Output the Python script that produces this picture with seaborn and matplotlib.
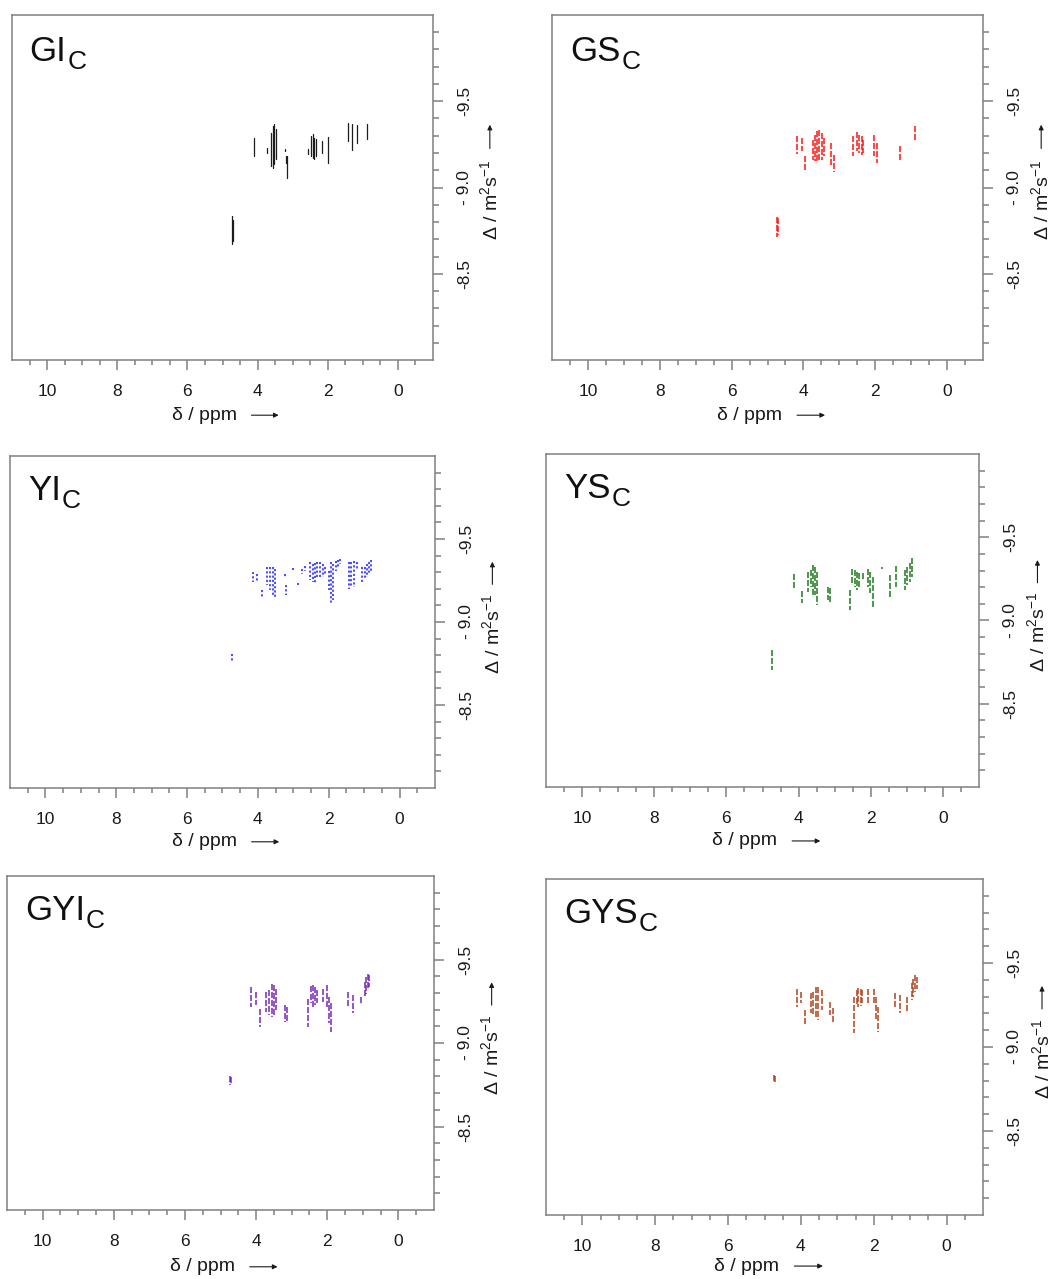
import numpy as np
import pandas as pd
import matplotlib
matplotlib.use("Agg")
import matplotlib.pyplot as plt
import seaborn as sns
from matplotlib.ticker import FixedLocator

# ---------------- data ----------------
panel_names = ["GI", "GS", "YI", "YS", "GYI", "GYS"]
panel_sub = "C"

gi_ppm = [4.11, 3.73, 3.62, 3.57, 3.53, 3.47, 3.21, 3.20, 3.16, 2.55, 2.48, 2.43, 2.38, 2.33, 2.17, 1.98, 1.41, 1.32, 1.18, 0.89, 4.72, 4.70]
gi_top = [-9.289, -9.231, -9.318, -9.357, -9.366, -9.337, -9.225, -9.182, -9.182, -9.221, -9.298, -9.308, -9.289, -9.279, -9.269, -9.295, -9.372, -9.366, -9.360, -9.370, -8.833, -8.814]
gi_bot = [-9.182, -9.202, -9.124, -9.114, -9.134, -9.163, -9.211, -9.143, -9.056, -9.192, -9.182, -9.172, -9.163, -9.182, -9.202, -9.143, -9.269, -9.217, -9.256, -9.279, -8.674, -8.688]

gs_ppm = [4.18, 4.04, 3.95, 3.74, 3.67, 3.61, 3.56, 3.49, 3.44, 3.23, 3.16, 2.61, 2.52, 2.44, 2.38, 2.33, 2.04, 1.96, 1.32, 0.90, 4.74, 4.70]
gs_top = [-9.297, -9.287, -9.180, -9.277, -9.306, -9.326, -9.331, -9.316, -9.287, -9.258, -9.190, -9.297, -9.320, -9.306, -9.297, -9.277, -9.306, -9.258, -9.238, -9.359, -8.831, -8.822]
gs_bot = [-9.196, -9.209, -9.093, -9.161, -9.151, -9.141, -9.145, -9.161, -9.180, -9.132, -9.087, -9.180, -9.209, -9.200, -9.190, -9.200, -9.180, -9.141, -9.151, -9.277, -8.711, -8.725]

yi_ppm = [4.13, 4.03, 3.89, 3.75, 3.66, 3.58, 3.51, 3.23, 3.20, 3.00, 2.87, 2.75, 2.66, 2.52, 2.45, 2.39, 2.32, 2.24, 2.16, 2.10, 2.00, 1.94, 1.88, 1.80, 1.74, 1.67, 1.44, 1.37, 1.28, 1.19, 1.06, 0.97, 0.92, 0.87, 0.82, 4.74]
yi_top = [-9.30, -9.29, -9.19, -9.33, -9.334, -9.33, -9.32, -9.29, -9.22, -9.324, -9.234, -9.32, -9.34, -9.36, -9.35, -9.354, -9.36, -9.36, -9.35, -9.33, -9.31, -9.36, -9.35, -9.37, -9.374, -9.38, -9.36, -9.36, -9.37, -9.36, -9.33, -9.33, -9.35, -9.36, -9.374, -8.806]
yi_bot = [-9.24, -9.24, -9.15, -9.22, -9.19, -9.16, -9.15, -9.27, -9.16, -9.314, -9.22, -9.29, -9.31, -9.25, -9.24, -9.23, -9.26, -9.27, -9.27, -9.29, -9.19, -9.11, -9.13, -9.31, -9.33, -9.35, -9.20, -9.21, -9.21, -9.32, -9.24, -9.26, -9.27, -9.29, -9.31, -8.76]

ys_ppm = [4.14, 3.90, 3.74, 3.66, 3.60, 3.54, 3.49, 3.19, 3.12, 2.57, 2.52, 2.45, 2.38, 2.33, 2.22, 2.08, 2.01, 1.94, 1.68, 1.46, 1.29, 1.06, 1.00, 0.92, 0.85, 4.73]
ys_top = [-9.28, -9.18, -9.294, -9.304, -9.334, -9.324, -9.294, -9.204, -9.194, -9.184, -9.308, -9.304, -9.294, -9.284, -9.284, -9.308, -9.294, -9.264, -9.32, -9.274, -9.328, -9.304, -9.324, -9.348, -9.374, -8.82]
ys_bot = [-9.188, -9.104, -9.174, -9.204, -9.144, -9.154, -9.094, -9.124, -9.114, -9.064, -9.214, -9.204, -9.184, -9.204, -9.244, -9.204, -9.164, -9.084, -9.308, -9.144, -9.204, -9.184, -9.214, -9.234, -9.264, -8.704]

gyi_ppm = [4.13, 4.01, 3.88, 3.71, 3.63, 3.56, 3.49, 3.44, 3.19, 3.13, 2.53, 2.47, 2.41, 2.35, 2.30, 2.13, 2.00, 1.94, 1.89, 1.41, 1.27, 1.06, 0.94, 0.90, 0.85, 0.82, 4.74, 4.71]
gyi_top = [-9.336, -9.306, -9.201, -9.306, -9.320, -9.356, -9.346, -9.326, -9.227, -9.217, -9.266, -9.340, -9.346, -9.336, -9.316, -9.326, -9.346, -9.276, -9.237, -9.306, -9.286, -9.276, -9.366, -9.396, -9.412, -9.406, -8.801, -8.797]
gyi_bot = [-9.217, -9.227, -9.097, -9.187, -9.167, -9.157, -9.167, -9.197, -9.127, -9.117, -9.097, -9.237, -9.217, -9.227, -9.237, -9.247, -9.217, -9.117, -9.067, -9.217, -9.177, -9.233, -9.276, -9.296, -9.316, -9.336, -8.748, -8.752]

gys_ppm = [4.12, 4.01, 3.89, 3.73, 3.67, 3.59, 3.52, 3.43, 3.19, 3.12, 2.55, 2.47, 2.42, 2.36, 2.31, 2.15, 2.00, 1.95, 1.89, 1.42, 1.28, 1.08, 0.96, 0.91, 0.87, 0.82, 4.73, 4.70]
gys_top = [-9.348, -9.328, -9.220, -9.319, -9.328, -9.358, -9.358, -9.338, -9.269, -9.230, -9.299, -9.342, -9.354, -9.348, -9.338, -9.348, -9.348, -9.299, -9.240, -9.319, -9.309, -9.299, -9.378, -9.407, -9.427, -9.417, -8.835, -8.826]
gys_bot = [-9.240, -9.259, -9.131, -9.200, -9.190, -9.171, -9.161, -9.220, -9.190, -9.145, -9.082, -9.250, -9.240, -9.244, -9.259, -9.250, -9.259, -9.161, -9.092, -9.240, -9.200, -9.200, -9.279, -9.299, -9.328, -9.348, -8.786, -8.790]

x_major = [10, 8, 6, 4, 2, 0]
x_minor = [10.5, 9.5, 9, 8.5, 7.5, 7, 6.5, 5.5, 5, 4.5, 3.5, 3, 2.5, 1.5, 1, 0.5, -0.5]
y_major = [-9.5, -9.0, -8.5]
y_major_labels = ["-9.5", "- 9.0", "-8.5"]
y_minor = [-9.9, -9.8, -9.7, -9.6, -9.4, -9.3, -9.2, -9.1, -8.9, -8.8, -8.7, -8.6, -8.4, -8.3, -8.2, -8.1]

# ---------------- style ----------------
sns.set_theme(style="white")
plt.rcParams["font.family"] = ["Liberation Sans", "DejaVu Sans"]
plt.rcParams["mathtext.fontset"] = "custom"
plt.rcParams["mathtext.rm"] = "Liberation Sans"
plt.rcParams["mathtext.it"] = "Liberation Sans:italic"
plt.rcParams["mathtext.bf"] = "Liberation Sans:bold"
plt.rcParams["mathtext.default"] = "regular"

W, H = 1054, 1279
fig = plt.figure(figsize=(W / 100, H / 100), dpi=100)
renderer = fig.canvas.get_renderer()

# (left, top, right, bottom) in pixels
boxes = [
    (12, 15, 433, 360),
    (552, 15, 983, 360),
    (10, 456, 435, 788),
    (546, 454, 979, 787),
    (7, 876, 434, 1210),
    (546, 879, 983, 1215),
]
colors = ["#1c1c1c", "#ff1414", "#1a1aff", "#1e781e", "#7528b8", "#b0441c"]
styles = ["-", (0, (4, 1.2)), (0, (1.4, 1.4)), (0, (4, 1.2)), (0, (4, 1.2)), (0, (4, 1.2))]
widths = [0.9, 1.1, 1.1, 1.1, 1.1, 1.1]
xlab_y = [-0.16, -0.16, -0.162, -0.162, -0.17, -0.152]

datasets = [
    (gi_ppm, gi_top, gi_bot),
    (gs_ppm, gs_top, gs_bot),
    (yi_ppm, yi_top, yi_bot),
    (ys_ppm, ys_top, ys_bot),
    (gyi_ppm, gyi_top, gyi_bot),
    (gys_ppm, gys_top, gys_bot),
]

gray = "#808080"
for i, name in enumerate(panel_names):
    l, t, r, b = boxes[i]
    ax = fig.add_axes([l / W, 1 - b / H, (r - l) / W, (b - t) / H])
    ppm, top, bot = datasets[i]
    df = pd.DataFrame({
        "ppm": np.repeat(ppm, 2),
        "D": np.ravel(np.column_stack([top, bot])),
        "peak": np.repeat(np.arange(len(ppm)), 2),
    })
    sns.lineplot(data=df, x="ppm", y="D", units="peak", estimator=None, sort=False,
                 color=colors[i], linewidth=widths[i], linestyle=styles[i], legend=False, ax=ax)
    ax.set_xlim(11, -1)
    ax.set_ylim(-8, -10)
    ax.set_xlabel("")
    ax.set_ylabel("")

    ax.xaxis.set_major_locator(FixedLocator(x_major))
    ax.xaxis.set_minor_locator(FixedLocator(x_minor))
    ax.set_xticklabels([str(v) for v in x_major])
    ax.yaxis.tick_right()
    ax.yaxis.set_major_locator(FixedLocator(y_major))
    ax.yaxis.set_minor_locator(FixedLocator(y_minor))
    ax.set_yticklabels(y_major_labels)

    ax.tick_params(axis="x", which="both", bottom=True, top=False, direction="out",
                   color=gray, width=1.1, labelsize=12.5, labelcolor="#1a1a1a", pad=10)
    ax.tick_params(axis="x", which="major", length=7.2)
    ax.tick_params(axis="x", which="minor", length=3.6)
    ax.tick_params(axis="y", which="both", right=True, left=False, labelright=True, labelleft=False,
                   direction="out", color=gray, width=1.1, labelsize=12.5, labelcolor="#1a1a1a",
                   pad=10, labelrotation=90)
    ax.tick_params(axis="y", which="major", length=7.2)
    ax.tick_params(axis="y", which="minor", length=4.3)
    for lab in ax.get_yticklabels():
        lab.set_verticalalignment("center")

    for sp in ax.spines.values():
        sp.set_visible(True)
        sp.set_color(gray)
        sp.set_linewidth(1.1)
    ax.grid(False)

    # panel title with a large subscript
    tmain = ax.text(0.042, 0.868, name, transform=ax.transAxes, fontsize=25,
                    ha="left", va="baseline", color="#111111")
    bb = tmain.get_window_extent(renderer)
    x_end = ax.transAxes.inverted().transform((bb.x1 + 1, bb.y0))[0]
    ax.text(x_end, 0.868 - 8.0 / (b - t), panel_sub, transform=ax.transAxes, fontsize=19,
            ha="left", va="baseline", color="#111111")

    # x axis label with arrow
    yl = xlab_y[i]
    ax.text(0.458, yl, "δ / ppm", transform=ax.transAxes, fontsize=14,
            ha="center", va="center", color="#1a1a1a")
    ax.annotate("", xy=(0.64, yl), xytext=(0.562, yl), xycoords="axes fraction",
                textcoords="axes fraction", annotation_clip=False,
                arrowprops=dict(arrowstyle="-|>", lw=0.8, color="#1a1a1a", mutation_scale=7))

    # y axis label with arrow
    ax.text(1.135, 0.465, "Δ / m$^{2}$s$^{-1}$", transform=ax.transAxes, fontsize=14,
            rotation=90, ha="center", va="center", color="#1a1a1a")
    ax.annotate("", xy=(1.135, 0.69), xytext=(1.135, 0.605), xycoords="axes fraction",
                textcoords="axes fraction", annotation_clip=False,
                arrowprops=dict(arrowstyle="-|>", lw=0.8, color="#1a1a1a", mutation_scale=7))

fig.savefig("out.png", dpi=100)
